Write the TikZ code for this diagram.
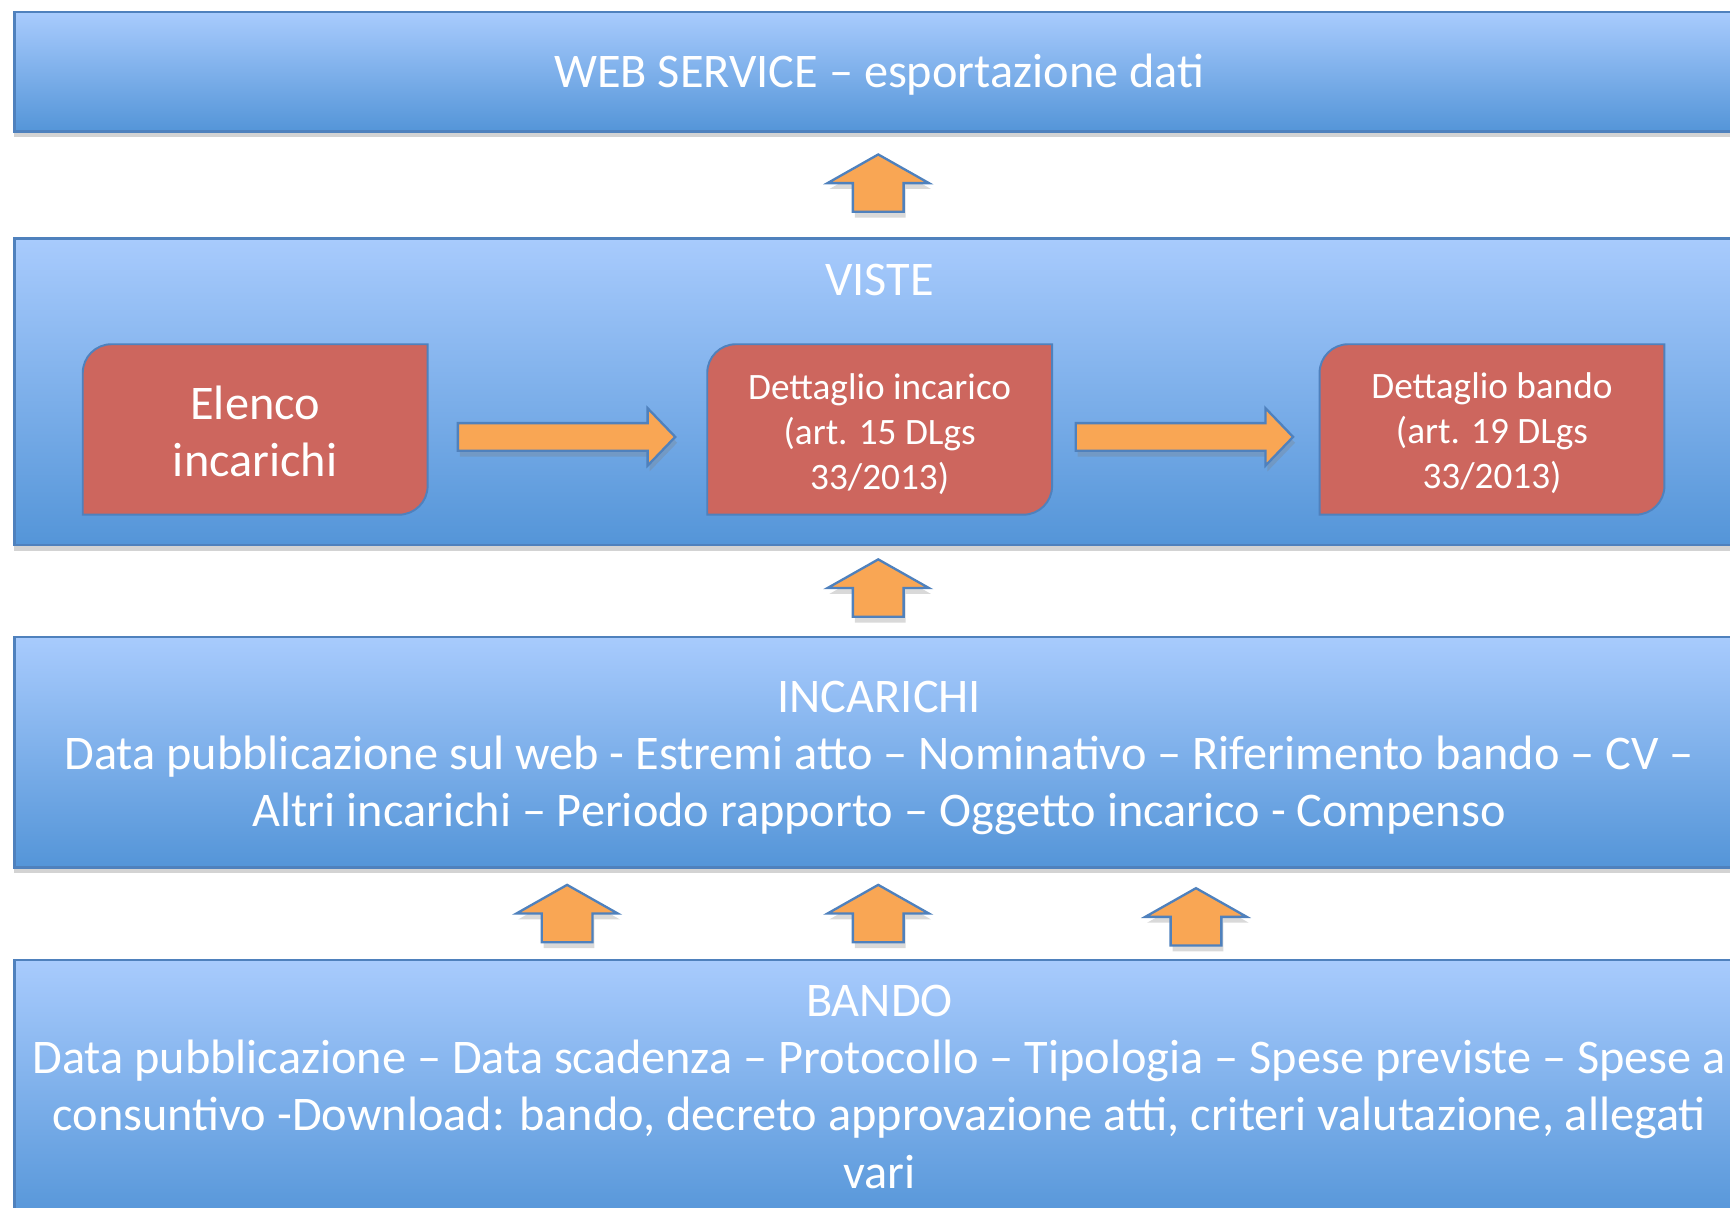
\documentclass[tikz,border=0pt]{standalone}
\usepackage{fontspec}
\setmainfont{Carlito}
\usetikzlibrary{shadows}
\pgfdeclarelayer{front}
\pgfsetlayers{main,front}

\definecolor{bandtop}{RGB}{168,203,253}
\definecolor{bandbot}{RGB}{84,149,216}
\definecolor{bandline}{RGB}{79,129,189}
\definecolor{redfill}{RGB}{205,102,94}
\definecolor{orangefill}{RGB}{249,166,84}

\tikzset{
  band/.style={draw=bandline, line width=0.6pt, top color=bandtop, bottom color=bandbot,
    drop shadow={shadow xshift=0pt, shadow yshift=-1.5pt, opacity=0.35},
    minimum width=15.7cm, anchor=north west, inner sep=0pt},
  bandtext/.style={text=white, font=\fontsize{12.45}{14.8}\selectfont, align=center},
  viewbody/.style={minimum width=3.11cm, minimum height=1.53cm, anchor=north west, inner sep=0pt},
  viewtext/.style={text=white, align=center, font=\fontsize{9.6}{11.6}\selectfont},
  viewshape/.style={fill=redfill, draw=bandline, line width=0.5pt},
  blockarr/.style={fill=orangefill, draw=bandline, line width=0.6pt,
    drop shadow={shadow xshift=0.5pt, shadow yshift=-1.5pt, opacity=0.3}}
}

% red box with two rounded corners
\newcommand{\viewbox}[1]{%
  \fill[black, opacity=0.25, xshift=1pt, yshift=-1.5pt] ([xshift=0.26cm]#1.north west) -- (#1.north east)
    -- ([yshift=0.26cm]#1.south east) arc[start angle=0, end angle=-90, radius=0.26cm]
    -- (#1.south west) -- ([yshift=-0.26cm]#1.north west) arc[start angle=180, end angle=90, radius=0.26cm] -- cycle;
  \draw[viewshape] ([xshift=0.26cm]#1.north west) -- (#1.north east)
    -- ([yshift=0.26cm]#1.south east) arc[start angle=0, end angle=-90, radius=0.26cm]
    -- (#1.south west) -- ([yshift=-0.26cm]#1.north west) arc[start angle=180, end angle=90, radius=0.26cm] -- cycle;}

% up arrow, tip at (#1,#2)
\newcommand{\uparr}[2]{%
  \draw[blockarr] (#1,#2) -- ++(46,26) -- ++(-23,0) -- ++(0,26) -- ++(-46,0)
    -- ++(0,-26) -- ++(-23,0) -- cycle;}

\begin{document}
\begin{tikzpicture}[x=0.01cm, y=-0.01cm]
  \useasboundingbox (0,0) rectangle (1568,1094);

  % layers
  \node[band, minimum height=1.08cm] (web) at (12,10) {};
  \node[bandtext] (weblabel) at (797,68) {WEB SERVICE – esportazione dati};

  \node[band, minimum height=2.78cm] (viste) at (12,215) {};
  \node[bandtext] (vistelabel) at (797,254) {VISTE};

  \node[band, minimum height=2.09cm] (incarichi) at (12,576) {};
  \node[bandtext] (incarichilabel) at (797,687) {INCARICHI\\
    Data pubblicazione sul web - Estremi atto – Nominativo – Riferimento bando – CV –\\
    Altri incarichi – Periodo rapporto – Oggetto incarico - Compenso};

  \node[band, minimum height=2.4cm] (bando) at (12,869) {};
  \node[bandtext] (bandolabel) at (797,985) {BANDO\\
    Data pubblicazione – Data scadenza – Protocollo – Tipologia – Spese previste – Spese a\\
    consuntivo -Download: bando, decreto approvazione atti, criteri valutazione, allegati\\
    vari};

  % views
  \node[viewbody] (elenco) at (75,312) {};
  \node[viewbody] (dinc) at (641,312) {};
  \node[viewbody] (dband) at (1196,312) {};
  \viewbox{elenco}
  \viewbox{dinc}
  \viewbox{dband}
  \node[viewtext, font=\fontsize{12.45}{14.8}\selectfont] (elencolabel) at ([yshift=-0.02cm]elenco.center) {Elenco\\incarichi};
  \node[viewtext] (dinclabel) at ([yshift=-0.04cm]dinc.center) {Dettaglio incarico\\(art. 15 DLgs\\33/2013)};
  \node[viewtext] (dbandlabel) at ([yshift=-0.03cm]dband.center) {Dettaglio bando\\(art. 19 DLgs\\33/2013)};

  % arrows between views
  \coordinate (a1s) at (415,396);
  \coordinate (a1e) at (612,396);
  \coordinate (a2s) at (975,396);
  \coordinate (a2e) at (1172,396);
  \foreach \s/\e in {a1s/a1e, a2s/a2e}{
    \draw[blockarr] (\s) ++(0,-12.5) -- ++(172,0) -- ++(0,-13.5) -- (\e) -- ++(-25,26)
      -- ++(0,-13.5) -- ++(-172,0) -- cycle;}

  % arrows between layers
  \uparr{796}{140}
  \uparr{796}{507}
  \foreach \x/\y in {514/802, 796/802, 1084/805}{
    \uparr{\x}{\y}}
\end{tikzpicture}
\end{document}
